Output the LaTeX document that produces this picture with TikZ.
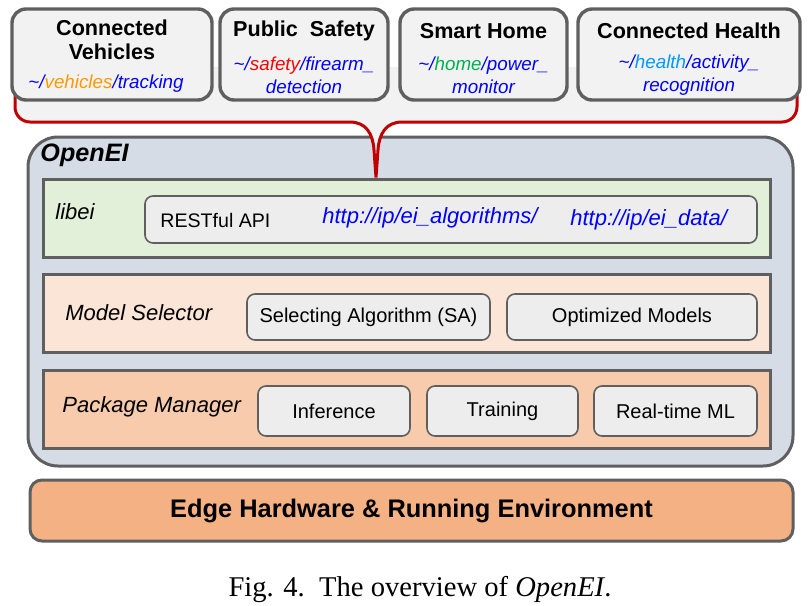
\documentclass[tikz,border=0pt]{standalone}
\usepackage{fontspec}
\setmainfont{Liberation Sans}
\newfontfamily\capfont{Liberation Serif}
\usetikzlibrary{positioning, calc}
\definecolor{edgegray}{HTML}{5F5F5F}
\definecolor{appfill}{HTML}{F2F2F2}
\definecolor{bubblered}{HTML}{C00000}
\definecolor{openfill}{HTML}{D6DCE5}
\definecolor{libfill}{HTML}{E2F0D9}
\definecolor{selfill}{HTML}{FBE5D6}
\definecolor{pkgfill}{HTML}{F8CBAD}
\definecolor{hwfill}{HTML}{F4B183}
\definecolor{itemfill}{HTML}{EDEDED}
\definecolor{urlblue}{HTML}{0000FF}
\definecolor{vehorange}{HTML}{FF9900}
\definecolor{homegreen}{HTML}{00B050}
\definecolor{healthblue}{HTML}{0099FF}
\tikzset{
    appbox/.style={draw=edgegray, fill=appfill, rounded corners=7pt, line width=1.7pt, minimum height=45.5pt, inner sep=0pt},
    apptitle/.style={font=\fontsize{10.8}{12}\selectfont\bfseries, align=center, inner sep=0pt},
    apppath/.style={font=\fontsize{9.4}{11.5}\selectfont\itshape, text=urlblue, align=center, inner sep=0pt},
    layerbox/.style={draw=edgegray, line width=1.5pt, minimum width=363.5pt, minimum height=39pt, inner sep=0pt},
    layerlabel/.style={font=\fontsize{11}{13}\selectfont\itshape, anchor=west, inner sep=0pt},
    itembox/.style={draw=edgegray, fill=itemfill, rounded corners=4pt, line width=0.8pt, minimum height=23.5pt, inner sep=0pt, font=\fontsize{10}{12}\selectfont},
    urltext/.style={font=\fontsize{11}{13}\selectfont\itshape, text=urlblue, anchor=west, inner sep=0pt},
}

\begin{document}
\begin{tikzpicture}[x=0.5pt, y=-0.5pt]
\useasboundingbox (0,0) rectangle (811,606);

% OpenEI frame and its layers
\node[draw=edgegray, fill=openfill, rounded corners=15pt, line width=1.5pt, minimum width=382.5pt, minimum height=164.5pt] (openei) at (410.5,301.5) {};
\node[font=\fontsize{12.6}{14}\selectfont\bfseries\itshape, anchor=west, inner sep=0pt] (openeilabel) at (40,155) {OpenEI};

\node[layerbox, fill=libfill] (libei) at (406.5,218) {};
\node[layerlabel] (libeilabel) at (55,212) {libei};
\node[itembox, minimum width=306pt] (api) at (451,219.5) {};
\node[anchor=west, inner sep=0pt, font=\fontsize{9.8}{12}\selectfont] (rest) at (160,220) {RESTful API};
\node[urltext] (algurl) at (322,218) {http://ip/ei\_algorithms/};
\node[urltext] (dataurl) at (570,220) {http://ip/ei\_data/};

\node[layerbox, fill=selfill] (modsel) at (406.5,313.5) {};
\node[layerlabel] (modsellabel) at (65,313) {Model Selector};
\node[itembox, minimum width=121.5pt, minimum height=23pt] (sa) at (368.5,317) {Selecting Algorithm (SA)};
\node[itembox, minimum width=125pt, minimum height=23pt] (om) at (632,317) {Optimized Models};

\node[layerbox, fill=pkgfill] (pkgmgr) at (406.5,409) {};
\node[layerlabel] (pkgmgrlabel) at (62,407) {Package Manager};
\node[itembox, minimum width=76pt, minimum height=25pt] (inf) at (334,411) {Inference};
\node[itembox, minimum width=75.5pt, minimum height=25pt] (trn) at (502.5,411) {Training};
\node[itembox, minimum width=81.5pt, minimum height=25pt] (rtml) at (675.5,411) {Real-time ML};

% hardware
\node[draw=edgegray, fill=hwfill, rounded corners=6pt, line width=1.5pt, minimum width=381.5pt, minimum height=30.5pt, font=\fontsize{12.7}{14}\selectfont\bfseries] (hw) at (411.5,510.5) {Edge Hardware \& Running Environment};

% application bubble pointing down to libei
\coordinate (tip) at (libei.north -| 376,0);
\fill[appfill] (15,67) -- (15,107) arc[start angle=180, end angle=270, radius=7.5pt] -- (350,122) .. controls (366,122) and (373,134) .. (374,150) -- (tip) -- (378,150) .. controls (379,134) and (386,122) .. (402,122) -- (782,122) arc[start angle=270, end angle=360, radius=7.5pt] -- (797,67) -- cycle;
\draw[bubblered, line width=1.5pt] (15,67) -- (15,107) arc[start angle=180, end angle=270, radius=7.5pt] -- (350,122) .. controls (366,122) and (373,134) .. (374,150) -- (tip) -- (378,150) .. controls (379,134) and (386,122) .. (402,122) -- (782,122) arc[start angle=270, end angle=360, radius=7.5pt] -- (797,67);

% applications
\node[appbox, minimum width=100pt] (cv) at (112,54.5) {};
\node[appbox, minimum width=84pt] (ps) at (304,54.5) {};
\node[appbox, minimum width=83.5pt] (sh) at (483.5,54.5) {};
\node[appbox, minimum width=111pt] (ch) at (689,54.5) {};

\node[apptitle] (cvtitle) at (112,40) {Connected\\Vehicles};
\node[apppath] (cvpath) at (106,84) {\textasciitilde/\textcolor{vehorange}{vehicles}/tracking};
\node[apptitle] (pstitle) at (304,31) {Public\ \ Safety};
\node[apppath] (pspath) at (304,75) {\textasciitilde/\textcolor{red}{safety}/firearm\_\\detection};
\node[apptitle] (shtitle) at (483.5,31) {Smart Home};
\node[apppath] (shpath) at (483.5,75) {\textasciitilde/\textcolor{homegreen}{home}/power\_\\monitor};
\node[apptitle] (chtitle) at (689,31) {Connected Health};
\node[apppath] (chpath) at (689,75) {\textasciitilde/\textcolor{healthblue}{health}/activity\_\\recognition};

% caption
\node[font=\capfont\fontsize{14.3}{16}\selectfont, inner sep=0pt] (caption) at (420,590) {Fig. 4.\ \ The overview of \textit{OpenEI}.};
\end{tikzpicture}
\end{document}
